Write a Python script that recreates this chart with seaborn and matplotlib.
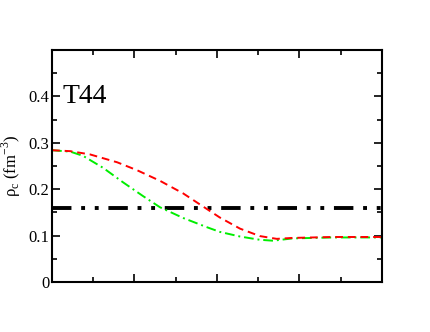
import numpy as np
import pandas as pd
import matplotlib
matplotlib.use('Agg')
import matplotlib.pyplot as plt
from matplotlib.ticker import MultipleLocator
import seaborn as sns

# curve data
red_x = [0, 0.44, 0.92, 1.58, 2.06, 2.62, 3.18, 3.59, 4.07, 4.56, 5.04, 5.45, 5.84, 6.81, 8.0]
red_y = [0.284, 0.282, 0.275, 0.258, 0.241, 0.218, 0.191, 0.167, 0.139, 0.115, 0.099, 0.093, 0.095, 0.097, 0.097]
green_x = [0, 0.44, 0.75, 1.24, 1.72, 2.21, 2.62, 3.18, 3.76, 4.07, 4.56, 5.04, 5.36, 5.84, 6.81, 8.0]
green_y = [0.284, 0.281, 0.272, 0.246, 0.215, 0.185, 0.161, 0.138, 0.118, 0.108, 0.098, 0.091, 0.089, 0.094, 0.096, 0.096]
sat_x = [0, 8.0]
sat_y = [0.16, 0.16]

sns.set_style('ticks', {'axes.edgecolor': 'black', 'text.color': 'black',
                        'xtick.color': 'black', 'ytick.color': 'black',
                        'axes.labelcolor': 'black'})
plt.rcParams['font.family'] = ['Liberation Serif', 'DejaVu Serif']
plt.rcParams['mathtext.fontset'] = 'custom'
plt.rcParams['mathtext.rm'] = 'Liberation Serif'

fig = plt.figure(figsize=(4.3, 3.32), dpi=100)
ax = fig.add_axes([0.121, 0.1506, 0.767, 0.6988])

red = pd.DataFrame({'x': red_x, 'y': red_y})
green = pd.DataFrame({'x': green_x, 'y': green_y})
sat = pd.DataFrame({'x': sat_x, 'y': sat_y})

sns.lineplot(data=sat, x='x', y='y', ax=ax, color='black', lw=2.8,
             linestyle=(0, (5, 2.5, 1, 2.5, 1, 2.5)))
sns.lineplot(data=green, x='x', y='y', ax=ax, color='#00ee00', lw=1.4,
             linestyle=(0, (5, 2, 1, 2)))
sns.lineplot(data=red, x='x', y='y', ax=ax, color='#ff0000', lw=1.4,
             linestyle=(0, (4, 2.5)))

ax.set_xlim(0, 8)
ax.set_ylim(0, 0.5)
ax.xaxis.set_major_locator(MultipleLocator(2))
ax.xaxis.set_minor_locator(MultipleLocator(1))
ax.yaxis.set_minor_locator(MultipleLocator(0.05))
ax.set_yticks([0, 0.1, 0.2, 0.3, 0.4])
ax.set_yticklabels(['0', '0.1', '0.2', '0.3', '0.4'])
ax.set_xticklabels([])
ax.tick_params(which='both', direction='in', top=True, right=True, width=1.2,
               labelsize=12, pad=2, colors='black')
ax.tick_params(which='major', length=6)
ax.tick_params(which='minor', length=3.5)
for s in ax.spines.values():
    s.set_linewidth(1.5)
    s.set_color('black')

ax.set_xlabel('')
ax.set_ylabel('ρ$_\\mathrm{c}$ (fm$^{\\mathrm{-3}}$)', fontsize=12, labelpad=4, color='black')
ax.text(0.25, 0.4, 'T44', fontsize=20, va='center', ha='left', color='black')

fig.savefig('out.png', dpi=100)
